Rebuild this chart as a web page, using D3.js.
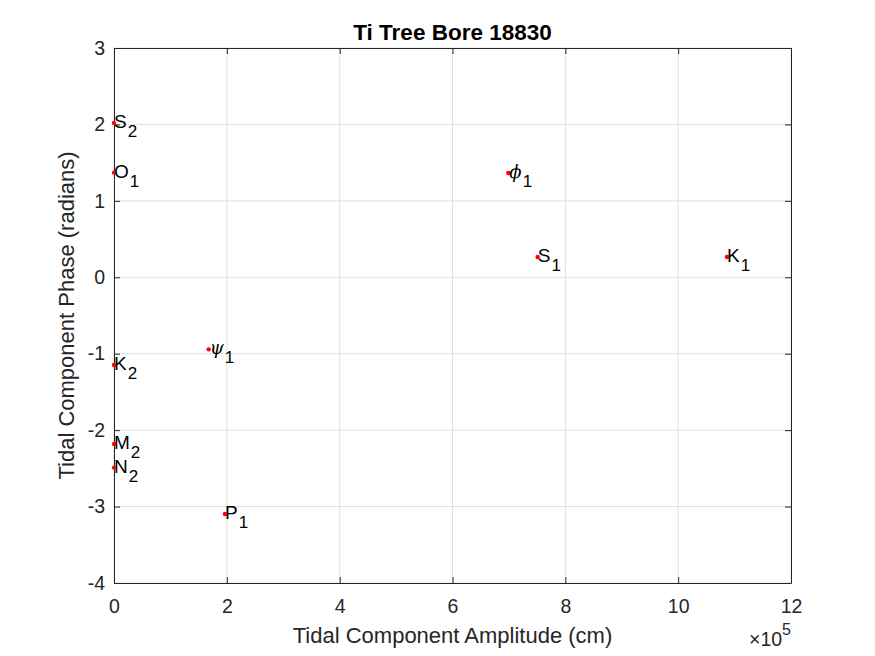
<!DOCTYPE html>
<html>
<head>
<meta charset="utf-8">
<script src="https://cdn.jsdelivr.net/npm/d3@7"></script>
<style>
  body { margin: 0; background: #fff; }
  text { font-family: "Liberation Sans", Arial, sans-serif; }
</style>
</head>
<body>
<div id="chart"></div>
<script>
// Tidal constituents (name, subscript, greek?)
var names = ["S", "O", "\u03D5", "S", "K", "\u03C8", "K", "M", "N", "P"];
var subs = ["2", "1", "1", "1", "1", "1", "2", "2", "2", "1"];
var greek = [false, false, true, false, false, true, false, false, false, false];
// amplitude in cm, phase in radians
var amplitudes = [0, 0, 699000, 751000, 1086500, 167800, 0, 0, 0, 196700];
var phases = [2.02, 1.37, 1.365, 0.266, 0.266, -0.943, -1.148, -2.18, -2.49, -3.098];

var xTicks = [0, 2, 4, 6, 8, 10, 12];
var yTicks = [-4, -3, -2, -1, 0, 1, 2, 3];

var svgWidth = 875;
var svgHeight = 656;

var chartMargin = { top: 48, right: 84, bottom: 73, left: 114 };
var chartWidth = svgWidth - chartMargin.left - chartMargin.right;
var chartHeight = svgHeight - chartMargin.top - chartMargin.bottom;

var svg = d3.select("#chart")
  .append("svg")
  .attr("width", svgWidth)
  .attr("height", svgHeight);

var chartGroup = svg.append("g")
  .attr("transform", `translate(${chartMargin.left}, ${chartMargin.top})`);

var xScale = d3.scaleLinear().domain([0, 12]).range([0, chartWidth]);
var yScale = d3.scaleLinear().domain([-4, 3]).range([chartHeight, 0]);

var axisColor = "#262626";
var tickLen = 6;

// grid lines
chartGroup.selectAll(".xgrid").data(xTicks).enter().append("line")
  .attr("x1", d => xScale(d)).attr("x2", d => xScale(d))
  .attr("y1", 0).attr("y2", chartHeight)
  .attr("stroke", "#e0e0e0").attr("stroke-width", 1);
chartGroup.selectAll(".ygrid").data(yTicks).enter().append("line")
  .attr("y1", d => yScale(d)).attr("y2", d => yScale(d))
  .attr("x1", 0).attr("x2", chartWidth)
  .attr("stroke", "#e0e0e0").attr("stroke-width", 1);

// axes (ticks pointing inward)
var fmt = d => String(d);
var xAxis = d3.axisBottom(xScale).tickValues(xTicks).tickFormat(fmt).tickSizeInner(-tickLen).tickSizeOuter(0).tickPadding(16);
var yAxis = d3.axisLeft(yScale).tickValues(yTicks).tickFormat(fmt).tickSizeInner(-tickLen).tickSizeOuter(0).tickPadding(9);
var xTop = d3.axisTop(xScale).tickValues(xTicks).tickSizeInner(-tickLen).tickSizeOuter(0).tickFormat("");
var yRight = d3.axisRight(yScale).tickValues(yTicks).tickSizeInner(-tickLen).tickSizeOuter(0).tickFormat("");

function styleAxis(g) {
  g.attr("font-size", null).attr("font-family", null);
  g.selectAll("path").attr("stroke", axisColor);
  g.selectAll("line").attr("stroke", axisColor);
  g.selectAll("text").attr("fill", axisColor).style("font-size", "19.5px");
}

chartGroup.append("g").attr("transform", `translate(0, ${chartHeight})`).call(xAxis).call(styleAxis);
chartGroup.append("g").call(yAxis).call(styleAxis);
chartGroup.append("g").call(xTop).call(styleAxis);
chartGroup.append("g").attr("transform", `translate(${chartWidth}, 0)`).call(yRight).call(styleAxis);

// points
var pts = names.map((n, i) => ({ name: n, sub: subs[i], greek: greek[i], x: amplitudes[i] / 1e5, y: phases[i] }));

chartGroup.selectAll(".dot").data(pts).enter().append("circle")
  .attr("cx", d => xScale(d.x))
  .attr("cy", d => yScale(d.y))
  .attr("r", 2.2)
  .attr("fill", "#ff0000");

// labels
var labels = chartGroup.selectAll(".lbl").data(pts).enter().append("text")
  .attr("x", d => xScale(d.x) + (d.greek ? 1 : 0))
  .attr("y", d => yScale(d.y) + 5)
  .attr("fill", "#000")
  .style("font-size", "19px");

labels.append("tspan")
  .text(d => d.name)
  .style("font-family", d => d.greek ? "'DejaVu Serif', 'Liberation Serif', serif" : null)
  .style("font-style", d => d.greek ? "italic" : null)
  .style("font-size", d => d.greek ? "18px" : null);
labels.append("tspan")
  .attr("dy", 9)
  .attr("dx", 1)
  .style("font-size", "17px")
  .text(d => d.sub);

// title
svg.append("text")
  .attr("x", chartMargin.left + chartWidth / 2)
  .attr("y", 40)
  .attr("text-anchor", "middle")
  .style("font-size", "22.5px")
  .style("font-weight", "bold")
  .attr("fill", "#000")
  .text("Ti Tree Bore 18830");

// axis labels
svg.append("text")
  .attr("x", chartMargin.left + chartWidth / 2)
  .attr("y", 643)
  .attr("text-anchor", "middle")
  .style("font-size", "22px")
  .attr("fill", axisColor)
  .text("Tidal Component Amplitude (cm)");

svg.append("text")
  .attr("transform", `translate(74, ${chartMargin.top + chartHeight / 2}) rotate(-90)`)
  .attr("text-anchor", "middle")
  .style("font-size", "22px")
  .attr("fill", axisColor)
  .text("Tidal Component Phase (radians)");

// exponent
var expo = svg.append("text")
  .attr("x", chartMargin.left + chartWidth)
  .attr("y", 646)
  .attr("text-anchor", "end")
  .style("font-size", "19.5px")
  .attr("fill", axisColor);
expo.append("tspan").text("\u00D710");
expo.append("tspan").attr("dy", -11).style("font-size", "16px").text("5");
</script>
</body>
</html>
